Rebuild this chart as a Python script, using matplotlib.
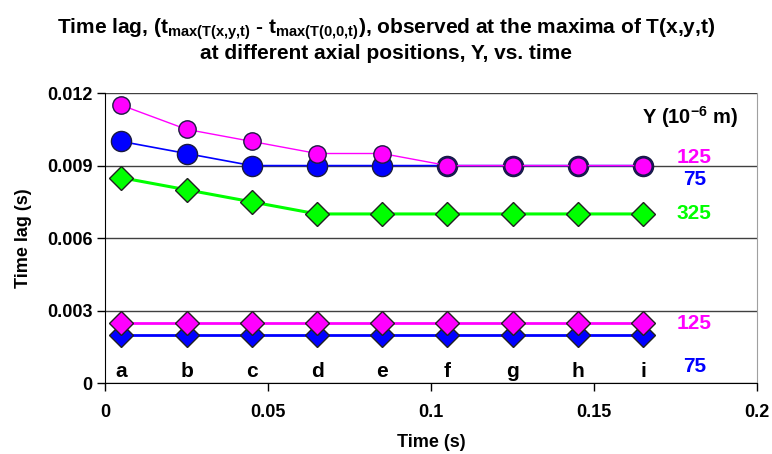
import matplotlib
matplotlib.use("Agg")
import matplotlib.pyplot as plt

plt.rcParams["font.family"] = ["Liberation Sans", "DejaVu Sans"]
plt.rcParams["font.weight"] = "bold"
plt.rcParams["mathtext.fontset"] = "custom"
plt.rcParams["mathtext.rm"] = "Liberation Sans:bold"
plt.rcParams["mathtext.bf"] = "Liberation Sans:bold"
plt.rcParams["mathtext.it"] = "Liberation Sans:bold"

# time points (s) and labels
time = [0.005, 0.025, 0.045, 0.065, 0.085, 0.105, 0.125, 0.145, 0.165]
letters = ["a", "b", "c", "d", "e", "f", "g", "h", "i"]

# time lag (s) for each axial position Y
lag_125_circ = [0.0115, 0.0105, 0.0100, 0.0095, 0.0095, 0.0090, 0.0090, 0.0090, 0.0090]
lag_75_circ = [0.0100, 0.0095, 0.0090, 0.0090, 0.0090, 0.0090, 0.0090, 0.0090, 0.0090]
lag_325_diam = [0.0085, 0.0080, 0.0075, 0.0070, 0.0070, 0.0070, 0.0070, 0.0070, 0.0070]
lag_125_diam = [0.0025] * 9
lag_75_diam = [0.0020] * 9

fig = plt.figure(figsize=(7.72, 4.54), dpi=100)
ax = fig.add_axes([0.136, 0.156, 0.845, 0.639])

# circles
ax.plot(time, lag_75_circ, color="#0000FF", lw=1.2, marker="o", ms=14.5,
        mfc="#0000FF", mec="#1a1a40", mew=1, zorder=3)
ax.plot(time, lag_125_circ, color="#FF00FF", lw=1, marker="o", ms=12.5,
        mfc="#FF00FF", mec="#1a1a40", mew=1, zorder=4)
# diamonds
ax.plot(time, lag_325_diam, color="#00FF00", lw=2.2, marker="D", ms=12,
        mfc="#00FF00", mec="#202020", mew=1, zorder=3)
ax.plot(time, lag_75_diam, color="#0000FF", lw=2, marker="D", ms=12,
        mfc="#0000FF", mec="#202020", mew=1, zorder=3)
ax.plot(time, lag_125_diam, color="#FF00FF", lw=2, marker="D", ms=12,
        mfc="#FF00FF", mec="#202020", mew=1, zorder=4)

for t, s in zip(time, letters):
    ax.text(t, 0.0005, s, ha="center", va="center", fontsize=15, fontweight="bold")

# series labels on the right
ax.text(0.1793, 0.0110, "Y (10$^{-6}$ m)", ha="center", va="center", fontsize=14.5)
ax.text(0.1807, 0.00935, "125", color="#FF00FF", ha="center", va="center", fontsize=15)
ax.text(0.1807, 0.00844, "75", color="#0000FF", ha="center", va="center", fontsize=15)
ax.text(0.1807, 0.00703, "325", color="#00FF00", ha="center", va="center", fontsize=15)
ax.text(0.1807, 0.00248, "125", color="#FF00FF", ha="center", va="center", fontsize=15)
ax.text(0.1807, 0.00068, "75", color="#0000FF", ha="center", va="center", fontsize=15)

ax.set_xlim(0, 0.2)
ax.set_ylim(0, 0.012)
ax.set_xticks([0, 0.05, 0.1, 0.15, 0.2])
ax.set_xticklabels(["0", "0.05", "0.1", "0.15", "0.2"])
ax.set_yticks([0, 0.003, 0.006, 0.009, 0.012])
ax.set_yticklabels(["0", "0.003", "0.006", "0.009", "0.012"])
ax.tick_params(labelsize=13, direction="out", length=6, width=1, pad=3)
ax.tick_params(axis="x", pad=9)
ax.yaxis.grid(True, color="#404040", lw=1)
ax.set_axisbelow(True)

ax.spines["top"].set_visible(False)
ax.spines["right"].set_color("#a0a0a0")
ax.spines["left"].set_color("black")
ax.spines["bottom"].set_color("black")

ax.set_xlabel("Time (s)", fontsize=13, fontweight="bold", labelpad=9)
ax.set_ylabel("Time lag (s)", fontsize=13, fontweight="bold", labelpad=11)

fig.text(0.5, 0.912,
         r"Time lag, (t$_{\mathbf{max(T(x{,}y{,}t)}}$ - t$_{\mathbf{max(T(0{,}0{,}t)}}$), "
         "observed at the maxima of T(x,y,t)\nat different axial positions, Y, vs. time",
         ha="center", va="center", fontsize=15, fontweight="bold", linespacing=1.15)

fig.savefig("out.png", dpi=100)
